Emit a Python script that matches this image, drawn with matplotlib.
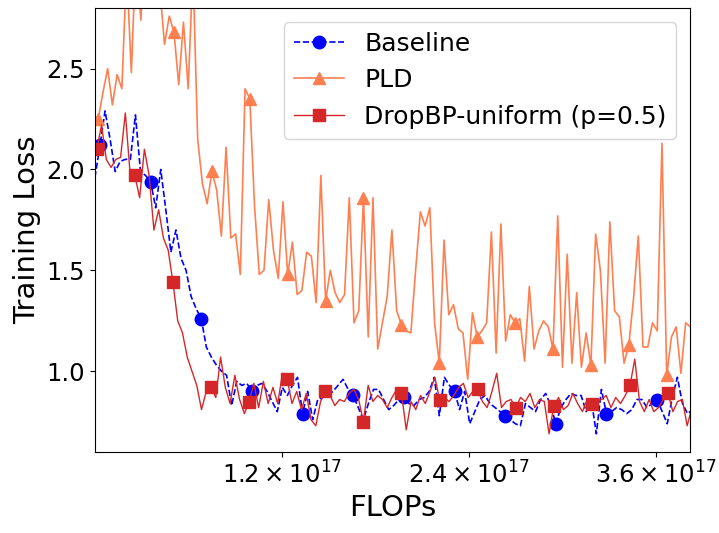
import numpy as np
import matplotlib
matplotlib.use("Agg")
import matplotlib.pyplot as plt

baseline_loss = [1.96, 2.12, 2.29, 2.15, 1.99, 2.04, 2.05, 2.05, 2.27, 1.99,
                 1.97, 1.94, 1.81, 2.00, 1.80, 1.59, 1.70, 1.56, 1.50, 1.37,
                 1.31, 1.26, 1.12, 1.07, 1.03, 1.00, 0.98, 0.83, 0.95, 0.93,
                 0.94, 0.90, 0.93, 0.94, 0.90, 0.85, 0.80, 0.92, 0.88, 0.93,
                 0.97, 0.79, 0.90, 0.76, 0.86, 0.87, 0.88, 0.90, 0.93, 0.96,
                 0.91, 0.88, 0.82, 0.76, 0.84, 0.91, 0.91, 0.86, 0.81, 0.83,
                 0.86, 0.87, 0.84, 0.83, 0.86, 0.87, 0.90, 0.97, 0.78, 0.97,
                 0.93, 0.90, 0.81, 0.90, 0.74, 0.80, 0.86, 0.88, 0.84, 0.82,
                 0.80, 0.78, 0.76, 0.74, 0.73, 0.84, 0.82, 0.80, 0.86, 0.89,
                 0.83, 0.74, 0.82, 0.86, 0.89, 0.88, 0.88, 0.80, 0.86, 0.69,
                 0.91, 0.79, 0.80, 0.82, 0.81, 0.79, 0.81, 0.86, 0.86, 0.82,
                 0.84, 0.86, 0.80, 0.74, 0.87, 0.97, 0.84, 0.79, 0.81]

pld_loss = [2.25, 2.38, 2.50, 2.32, 2.47, 2.40, 3.00, 2.48, 3.10, 2.74,
            3.20, 3.00, 3.20, 2.90, 2.62, 2.76, 2.68, 2.42, 2.73, 2.40,
            3.00, 2.15, 1.93, 1.83, 1.99, 1.90, 1.67, 2.11, 1.66, 1.68,
            1.48, 2.40, 2.35, 1.82, 1.48, 1.50, 1.85, 1.60, 1.46, 1.84,
            1.48, 1.64, 1.38, 1.40, 1.59, 1.57, 1.34, 1.97, 1.35, 1.50,
            1.39, 1.34, 1.38, 1.86, 1.24, 1.30, 1.86, 1.17, 1.86, 1.11,
            1.24, 1.37, 1.70, 1.30, 1.23, 1.20, 1.19, 1.50, 1.79, 1.72,
            1.81, 1.24, 1.04, 1.65, 1.28, 1.33, 1.21, 1.19, 0.96, 1.29,
            1.17, 1.20, 1.24, 1.69, 1.09, 1.73, 1.15, 1.28, 1.24, 1.26,
            1.05, 1.42, 1.11, 1.20, 1.25, 1.22, 1.11, 1.77, 1.02, 1.58,
            1.04, 1.39, 1.02, 1.19, 1.03, 1.68, 1.50, 1.04, 1.74, 1.30,
            1.27, 1.04, 1.13, 1.36, 1.67, 1.12, 1.12, 1.24, 1.20, 2.13,
            0.98, 1.17, 1.22, 0.99, 1.24, 1.22]

dropbp_loss = [2.10, 2.22, 2.05, 2.01, 2.05, 2.06, 2.28, 1.98, 1.97, 1.86,
               2.10, 1.97, 1.70, 1.80, 1.66, 1.60, 1.44, 1.25, 1.19, 1.07,
               1.00, 0.93, 0.81, 0.90, 0.92, 0.87, 1.07, 0.92, 0.84, 0.98,
               0.86, 0.79, 0.85, 0.94, 0.82, 0.95, 0.84, 0.92, 0.84, 0.99,
               0.96, 0.84, 0.90, 0.81, 0.89, 0.76, 0.73, 0.85, 0.90, 0.88,
               0.83, 0.86, 0.85, 0.89, 0.91, 0.86, 0.75, 0.93, 0.85, 0.88,
               0.86, 0.82, 0.87, 0.91, 0.89, 0.71, 0.85, 0.81, 0.88, 0.84,
               0.90, 0.97, 0.86, 0.87, 0.85, 0.88, 0.92, 0.94, 0.87, 0.90,
               0.91, 0.85, 0.82, 0.90, 0.99, 0.82, 0.85, 0.86, 0.82, 0.87,
               0.85, 0.89, 0.82, 0.86, 0.85, 0.69, 0.83, 0.87, 0.81, 0.83,
               0.89, 0.84, 0.80, 0.86, 0.84, 0.85, 0.86, 0.88, 0.82, 0.87,
               0.84, 0.88, 0.93, 1.06, 0.85, 0.80, 0.86, 0.80, 0.82, 0.86,
               0.89, 0.80, 0.85, 0.86, 0.73, 0.82]

# FLOPs spent per logged step, and where each run's log starts
baseline_step_flops, baseline_start = 3.25e15, 0.0
pld_step_flops, pld_start = 3.04e15, 2.1e15
dropbp_step_flops, dropbp_start = 3.055e15, 1.2e15

xtick_vals = [1.2e17, 2.4e17, 3.6e17]
xtick_labels = [r'$1.2\times10^{17}$', r'$2.4\times10^{17}$', r'$3.6\times10^{17}$']
ytick_vals = [1.0, 1.5, 2.0, 2.5]

x_base = baseline_start + baseline_step_flops * np.arange(len(baseline_loss))
x_pld = pld_start + pld_step_flops * np.arange(len(pld_loss))
x_drop = dropbp_start + dropbp_step_flops * np.arange(len(dropbp_loss))

fig = plt.figure(figsize=(7.19, 5.33), dpi=100)
ax = fig.add_axes([0.132, 0.152, 0.828, 0.833])

ax.plot(x_base, baseline_loss, '--', color='blue', marker='o', markersize=9,
        markevery=(1, 10), linewidth=1.2, label='Baseline')
ax.plot(x_pld, pld_loss, '-', color='coral', marker='^', markersize=9,
        markevery=8, linewidth=1.2, label='PLD')
ax.plot(x_drop, dropbp_loss, '-', color='tab:red', marker='s', markersize=8,
        markevery=8, linewidth=1.0, label='DropBP-uniform (p=0.5)')

ax.set_xlim(0, 3.82e17)
ax.set_ylim(0.6, 2.8)
ax.set_xticks(xtick_vals)
ax.set_xticklabels(xtick_labels)
ax.set_yticks(ytick_vals)
ax.tick_params(labelsize=17.5)
ax.set_xlabel('FLOPs', fontsize=21)
ax.set_ylabel('Training Loss', fontsize=21)
ax.legend(loc='upper right', fontsize=18, borderaxespad=0.55)

fig.savefig('out.png', dpi=100)
